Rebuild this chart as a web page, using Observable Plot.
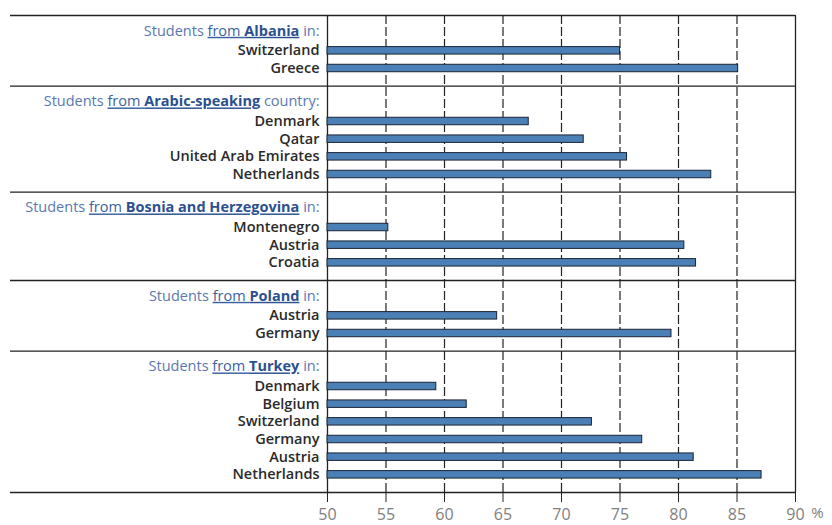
<!DOCTYPE html>
<html>
<head>
<meta charset="utf-8">
<script src="https://cdn.jsdelivr.net/npm/d3@7"></script>
<script src="https://cdn.jsdelivr.net/npm/@observablehq/plot@0.6"></script>
<style>
  html, body { margin: 0; padding: 0; background: #fff; }
  #chart svg { display: block; }
</style>
</head>
<body>
<div id="chart"></div>
<script>
// ---- data ----
const groups = ["Albania", "Arabic-speaking", "Bosnia and Herzegovina", "Poland", "Turkey"];
const groupSuffix = ["in:", "country:", "in:", "in:", "in:"];
const countries = [
  ["Switzerland", "Greece"],
  ["Denmark", "Qatar", "United Arab Emirates", "Netherlands"],
  ["Montenegro", "Austria", "Croatia"],
  ["Austria", "Germany"],
  ["Denmark", "Belgium", "Switzerland", "Germany", "Austria", "Netherlands"]
];
const values = [
  [75.0, 85.1],
  [67.2, 71.9, 75.6, 82.8],
  [55.2, 80.5, 81.5],
  [64.5, 79.4],
  [59.3, 61.9, 72.6, 76.9, 81.3, 87.1]
];
const xTicks = [50, 55, 60, 65, 70, 75, 80, 85, 90];
const gridTicks = xTicks.slice(1, -1);
const frameTicks = [xTicks[0], xTicks[xTicks.length - 1]];

// ---- build row layout (ordinal keys) ----
const rowKeys = [];
const sepKeys = [];
const headers = [];
const items = [];
groups.forEach((g, gi) => {
  const sk = "sep" + gi; rowKeys.push(sk); sepKeys.push(sk);
  const hk = "h" + gi; rowKeys.push(hk);
  headers.push({key: hk, group: g, suffix: groupSuffix[gi]});
  countries[gi].forEach((c, ci) => {
    const k = "r" + gi + "-" + ci; rowKeys.push(k);
    items.push({key: k, country: c, value: values[gi][ci]});
  });
});
rowKeys.push("sepEnd"); sepKeys.push("sepEnd");

const base = xTicks[0];
const halfBand = 477 / (rowKeys.length - 1) / 2;

const plot = Plot.plot({
  width: 832,
  height: 525,
  marginLeft: 10,
  marginRight: 37,
  marginTop: 15,
  marginBottom: 33,
  style: {fontFamily: "'Open Sans', sans-serif", background: "#fff"},
  x: {domain: [xTicks[0], xTicks[xTicks.length - 1]], range: [327, 795], axis: null},
  y: {type: "band", domain: rowKeys, insetTop: -halfBand, insetBottom: -halfBand, padding: 0, round: false, axis: null},
  marks: [
    Plot.ruleX(gridTicks, {x: d => d, stroke: "#222", strokeWidth: 1.2, strokeDasharray: "9,3"}),
    Plot.ruleX(frameTicks, {x: d => d, stroke: "#222", strokeWidth: 1.3}),
    Plot.ruleY(sepKeys, {y: d => d, stroke: "#222", strokeWidth: 1.3}),
    Plot.barX(items, {
      y: "key", x1: () => base, x2: "value",
      fill: "#4b80b6", stroke: "#1c2433", strokeWidth: 1,
      insetTop: 5.1, insetBottom: 5.1
    }),
    Plot.text(items, {
      y: "key", x: () => base, text: "country",
      textAnchor: "end", dx: -8, fontSize: 14.5, fontWeight: 600, fill: "#2a2a2a"
    }),
    Plot.text(headers, {
      y: "key", x: () => base, text: d => "Students from " + d.group + " " + d.suffix,
      textAnchor: "end", dx: -8, dy: -2, fontSize: 14.5, fill: "#5a78b0"
    }),
    Plot.axisX(xTicks, {
      label: null, tickSize: 10, tickPadding: 6, fontSize: 16, stroke: "#222", fill: "#808080",
      tickFormat: d => String(d)
    }),
    Plot.text(["%"], {
      x: () => xTicks[xTicks.length - 1], frameAnchor: "bottom",
      text: d => d, dx: 22, dy: 25, fontSize: 15, fill: "#808080"
    })
  ]
});

// rich formatting of header labels
const hdrMap = new Map(headers.map(h => ["Students from " + h.group + " " + h.suffix, h]));
d3.select(plot).selectAll("text").each(function() {
  const h = hdrMap.get(this.textContent);
  if (!h) return;
  const t = d3.select(this);
  t.text(null);
  t.append("tspan").attr("fill", "#5a78b0").text("Students ");
  t.append("tspan").attr("fill", "#3a62a0").attr("text-decoration", "underline").text("from ");
  t.append("tspan").attr("fill", "#2c5090").attr("font-weight", 700).attr("text-decoration", "underline").text(h.group);
  t.append("tspan").attr("fill", "#5a78b0").text(" " + h.suffix);
});

document.getElementById("chart").appendChild(plot);
</script>
</body>
</html>
